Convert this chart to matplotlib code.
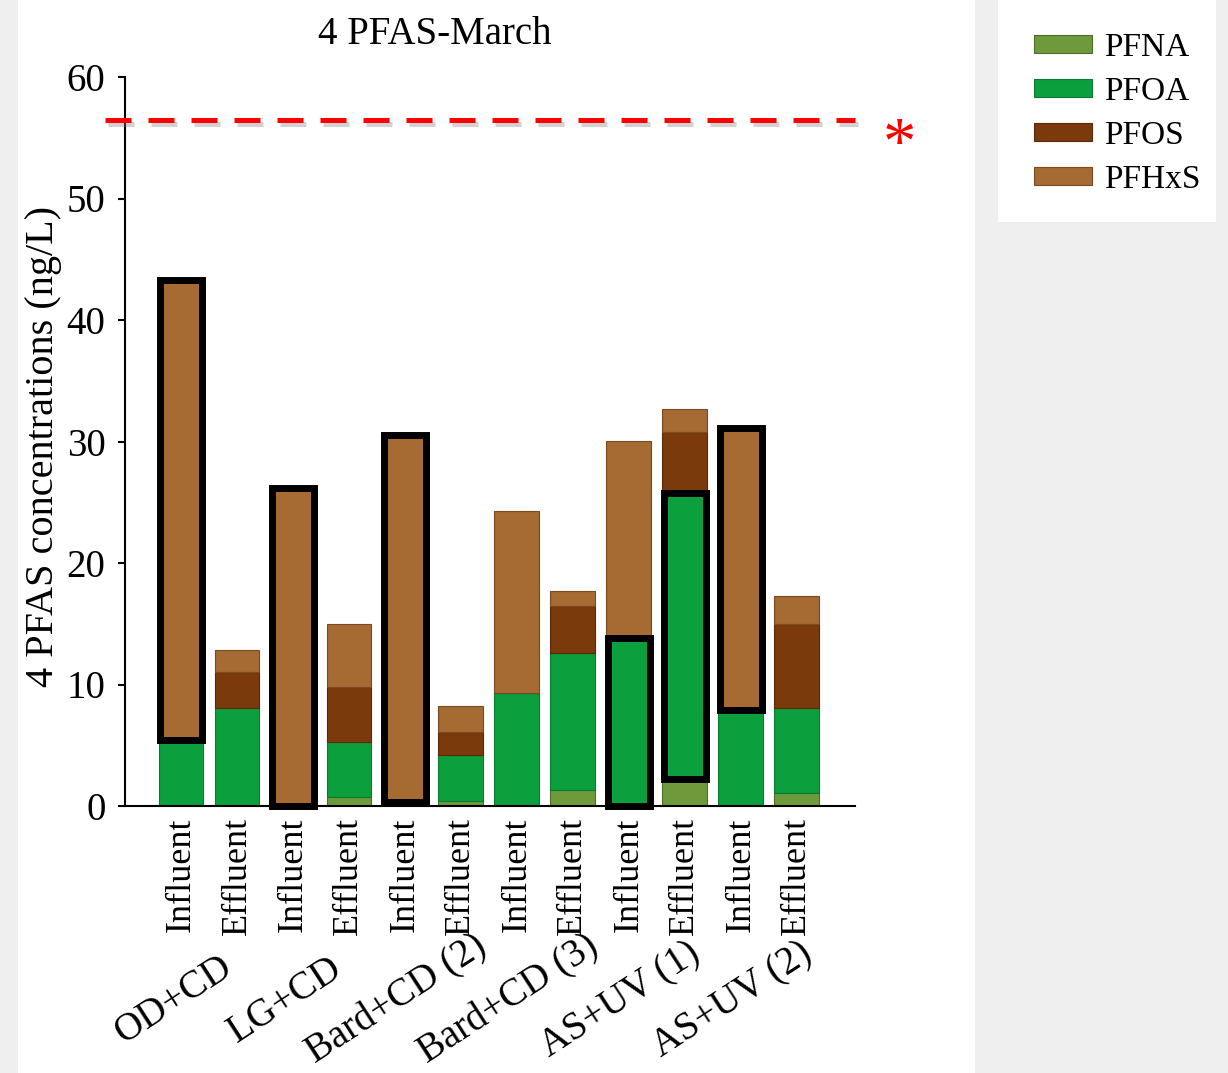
import numpy as np
import matplotlib
matplotlib.use("Agg")
import matplotlib.pyplot as plt
import matplotlib.patheffects as pe
from matplotlib.patches import Rectangle

plt.rcParams['font.family'] = ['Liberation Serif', 'DejaVu Serif']

samples = ["Influent", "Effluent"] * 6
groups = ["OD+CD", "LG+CD", "Bard+CD (2)", "Bard+CD (3)", "AS+UV (1)", "AS+UV (2)"]
series = ["PFNA", "PFOA", "PFOS", "PFHxS"]

pfna = [0.0, 0.0, 0.0, 0.7, 0.0, 0.4, 0.0, 1.3, 0.0, 2.2, 0.0, 1.1]
pfoa = [5.4, 8.1, 0.0, 4.6, 0.3, 3.8, 9.3, 11.3, 13.8, 23.6, 7.9, 7.0]
pfos = [0.0, 2.9, 0.0, 4.5, 0.0, 1.9, 0.0, 3.9, 0.0, 5.0, 0.0, 6.9]
pfhxs = [37.9, 1.8, 26.2, 5.2, 30.2, 2.1, 15.0, 1.2, 16.2, 1.9, 23.2, 2.3]

# segment that is outlined in black for each bar (None = no box)
boxed = ["PFHxS", None, "PFHxS", None, "PFHxS", None, None, None, "PFOA", "PFOA", "PFHxS", None]

limit = 56.5

colors = {"PFNA": "#6f9a3c", "PFOA": "#0c9f3e", "PFOS": "#7b3a0c", "PFHxS": "#a66a33"}
edges = {"PFNA": "#4d6b2a", "PFOA": "#0a7a30", "PFOS": "#5a2a08", "PFHxS": "#7a4a20"}

data = {"PFNA": pfna, "PFOA": pfoa, "PFOS": pfos, "PFHxS": pfhxs}

fig = plt.figure(figsize=(12.28, 10.73), dpi=100)
fig.patch.set_facecolor("#efefef")
fig.patches.append(Rectangle((18 / 1228, 0), (975 - 18) / 1228, 1, transform=fig.transFigure,
                             facecolor="white", edgecolor="none", zorder=-10))
fig.patches.append(Rectangle((998 / 1228, 1 - 222 / 1073), (1216 - 998) / 1228, 222 / 1073,
                             transform=fig.transFigure, facecolor="white", edgecolor="none", zorder=-10))

ax = fig.add_axes([125 / 1228, 1 - 806 / 1073, 730 / 1228, 729 / 1073])
ax.set_facecolor("none")

x = np.arange(len(samples))
bottom = np.zeros(len(samples))
starts = {}
for s in series:
    v = np.array(data[s])
    starts[s] = bottom.copy()
    ax.bar(x, v, 0.8, bottom=bottom, color=colors[s], edgecolor=edges[s], linewidth=0.8, label=s)
    bottom += v

for i, s in enumerate(boxed):
    if s is None:
        continue
    ax.bar(x[i], data[s][i], 0.76, bottom=starts[s][i], fill=False, edgecolor="black",
           linewidth=5, clip_on=False, zorder=5)

ax.plot([-1.36, 12.04], [limit, limit], color="red", lw=3.6, dashes=(5.2, 3.4), clip_on=False,
        zorder=6, path_effects=[pe.SimpleLineShadow(offset=(2, -3), shadow_color="gray", alpha=0.35),
                                pe.Normal()])
ax.text(12.84, 54.3, "*", color="red", fontsize=48, ha="center", va="center", clip_on=False)

ax.set_xlim(-1, 12.04)
ax.set_ylim(0, 60)
ax.set_yticks(range(0, 61, 10))
ax.set_xticks(x)
ax.set_xticklabels(samples, rotation=90, fontsize=26)
ax.tick_params(axis="x", length=0, pad=8)
ax.tick_params(axis="y", labelsize=28, length=5, width=1.5, pad=9)
for sp in ["top", "right"]:
    ax.spines[sp].set_visible(False)
ax.spines["left"].set_linewidth(1.5)
ax.spines["bottom"].set_linewidth(1.5)
ax.spines["left"].set_bounds(0, 60)

ax.set_ylabel("4 PFAS concentrations (ng/L)", fontsize=29)
ax.yaxis.set_label_coords(-0.086, 0.493)

for k, g in enumerate(groups):
    ax.text(2 * k - 0.14, -0.266, g, transform=ax.get_xaxis_transform(), rotation=33,
            ha="center", va="center", fontsize=28, rotation_mode="anchor")

fig.text(435 / 1228, 1 - 34 / 1073, "4 PFAS-March", fontsize=28, ha="center", va="center")

handles, labels = ax.get_legend_handles_labels()
fig.legend(handles, labels, loc="upper left", bbox_to_anchor=(1017 / 1228, 1 - 16 / 1073),
           frameon=False, fontsize=24, handlelength=1.75, handleheight=0.45,
           labelspacing=0.40, handletextpad=0.35, borderpad=0)

fig.savefig("out.png", dpi=100, facecolor=fig.get_facecolor())
